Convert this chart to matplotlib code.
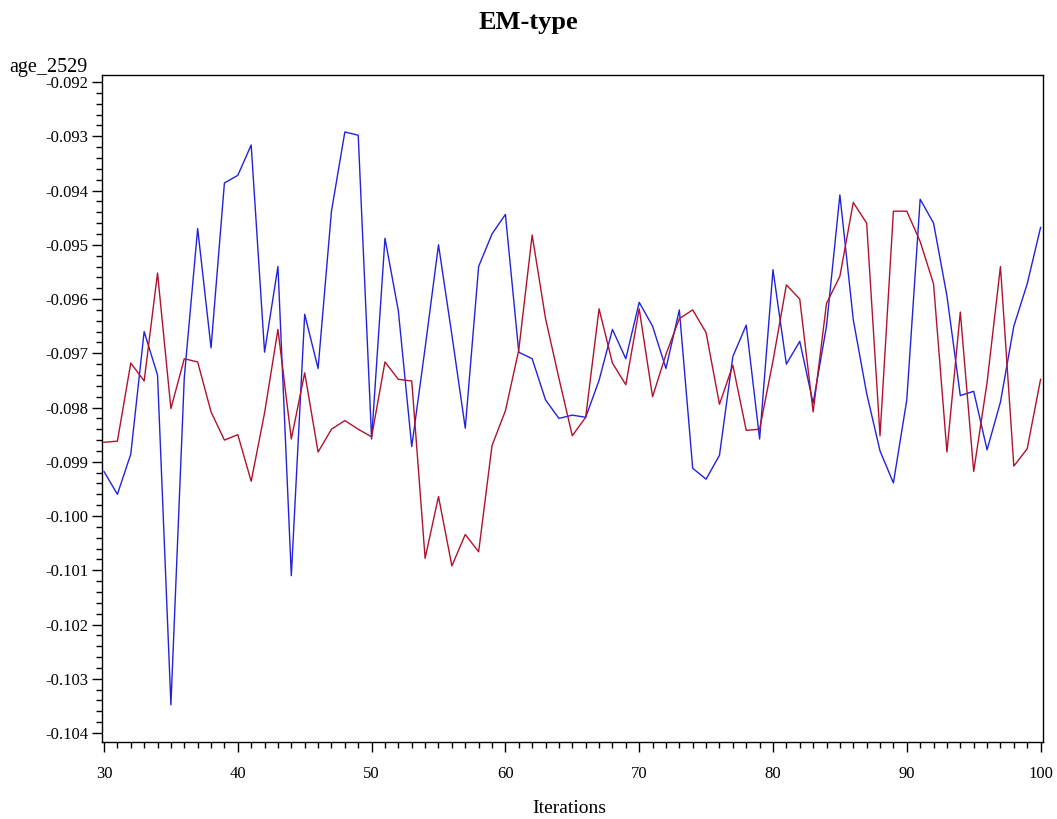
import numpy as np
import matplotlib.pyplot as plt
from matplotlib.ticker import MultipleLocator

plt.rcParams['font.family'] = ['Liberation Serif', 'DejaVu Serif']

# iterations 30..100
iterations = np.arange(30, 101)

# blue series
blue_vals = [
    -0.09918, -0.09960, -0.09886, -0.09660, -0.09740, -0.10348, -0.09745, -0.09470,
    -0.09690, -0.09386, -0.09372, -0.09316, -0.09698, -0.09540, -0.10110, -0.09628,
    -0.09728, -0.09438, -0.09292, -0.09298, -0.09858, -0.09488, -0.09622, -0.09872,
    -0.09690, -0.09500, -0.09666, -0.09838, -0.09540, -0.09480, -0.09444, -0.09698,
    -0.09710, -0.09786, -0.09820, -0.09814, -0.09818, -0.09750, -0.09656, -0.09710,
    -0.09606, -0.09650, -0.09728, -0.09620, -0.09912, -0.09932, -0.09888, -0.09706,
    -0.09648, -0.09858, -0.09546, -0.09720, -0.09678, -0.09792, -0.09650, -0.09408,
    -0.09638, -0.09774, -0.09880, -0.09939, -0.09786, -0.09416, -0.09460, -0.09594,
    -0.09778, -0.09770, -0.09878, -0.09790, -0.09650, -0.09572, -0.09468,
]

# red series
red_vals = [
    -0.09864, -0.09862, -0.09718, -0.09751, -0.09552, -0.09802, -0.09710, -0.09716,
    -0.09808, -0.09860, -0.09850, -0.09936, -0.09810, -0.09656, -0.09858, -0.09736,
    -0.09882, -0.09840, -0.09824, -0.09840, -0.09854, -0.09716, -0.09748, -0.09751,
    -0.10078, -0.09964, -0.10092, -0.10034, -0.10066, -0.09870, -0.09806, -0.09694,
    -0.09482, -0.09636, -0.09746, -0.09852, -0.09818, -0.09618, -0.09718, -0.09758,
    -0.09618, -0.09780, -0.09702, -0.09636, -0.09620, -0.09662, -0.09794, -0.09722,
    -0.09842, -0.09840, -0.09714, -0.09574, -0.09600, -0.09808, -0.09608, -0.09558,
    -0.09422, -0.09460, -0.09852, -0.09438, -0.09438, -0.09494, -0.09572, -0.09882,
    -0.09624, -0.09918, -0.09754, -0.09540, -0.09908, -0.09876, -0.09748,
]

fig = plt.figure(figsize=(10.57, 8.19), dpi=100)
ax = fig.add_axes([0.0965, 0.094, 0.8905, 0.8144])

ax.plot(iterations, blue_vals, color='#2222dd', linewidth=1.0)
ax.plot(iterations, red_vals, color='#b0122e', linewidth=1.0)

ax.set_xlim(29.85, 100.2)
ax.set_ylim(-0.104166, -0.09187)

ax.xaxis.set_major_locator(MultipleLocator(10))
ax.xaxis.set_minor_locator(MultipleLocator(1))
ax.yaxis.set_major_locator(MultipleLocator(0.001))
ax.yaxis.set_minor_locator(MultipleLocator(0.0002))
ax.yaxis.set_major_formatter(plt.FuncFormatter(lambda v, p: f'{v:.3f}'))

ax.tick_params(which='major', direction='out', length=7, width=1.0, labelsize=12, pad=3)
ax.tick_params(which='minor', direction='out', length=4, width=1.0)
ax.tick_params(axis='x', which='major', pad=10)
for s in ax.spines.values():
    s.set_linewidth(1.0)

fig.text(0.5, 0.973, 'EM-type', ha='center', va='center', fontsize=19, fontweight='bold')
fig.text(0.046, 0.917, 'age_2529', ha='center', va='center', fontsize=14.5)
fig.text(0.539, 0.013, 'Iterations', ha='center', va='center', fontsize=14)

fig.savefig('out.png', dpi=100)
